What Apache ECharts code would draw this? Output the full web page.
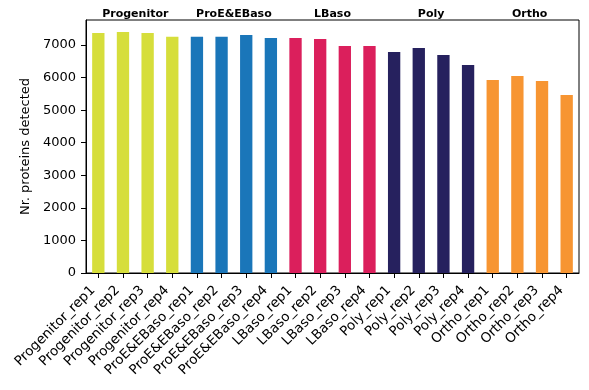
<!DOCTYPE html>
<html><head><meta charset="utf-8">
<script src="https://cdn.jsdelivr.net/npm/echarts@6/dist/echarts.min.js"></script>
<style>html,body{margin:0;padding:0;background:#fff}#c{width:589px;height:390px}</style>
</head><body><div id="c"></div>
<script>
const categories = ["Progenitor_rep1","Progenitor_rep2","Progenitor_rep3","Progenitor_rep4",
"ProE&EBaso_rep1","ProE&EBaso_rep2","ProE&EBaso_rep3","ProE&EBaso_rep4",
"LBaso_rep1","LBaso_rep2","LBaso_rep3","LBaso_rep4",
"Poly_rep1","Poly_rep2","Poly_rep3","Poly_rep4",
"Ortho_rep1","Ortho_rep2","Ortho_rep3","Ortho_rep4"];
const values = [7370,7400,7370,7250, 7250,7250,7310,7215, 7215,7185,6970,6970, 6785,6910,6695,6390, 5925,6050,5895,5465];
const groups = ["Progenitor","ProE&EBaso","LBaso","Poly","Ortho"];
const groupColors = ["#d6de3b","#1a76b9","#db1f5c","#26215e","#f79532"];
const yTicks = [0,1000,2000,3000,4000,5000,6000,7000];

const font = "DejaVu Sans";
const chart = echarts.init(document.getElementById('c'), null, {renderer:'canvas'});
chart.setOption({
  animation:false,
  grid:{left:86,right:10,top:20,bottom:117,show:true,borderColor:'#000',borderWidth:1,containLabel:false},
  xAxis:[{
    type:'category', data:categories, position:'bottom',
    axisLine:{show:true,lineStyle:{color:'#000',width:1}},
    axisTick:{show:true,alignWithLabel:true,length:5,lineStyle:{color:'#000'}},
    axisLabel:{rotate:45,interval:0,fontFamily:font,fontSize:13.5,color:'#000',margin:10,padding:[0,7.5,0,0]},
    splitLine:{show:false}
  },{
    type:'category', data:groups, position:'top',
    axisLine:{show:false}, axisTick:{show:false},
    axisLabel:{interval:0,fontFamily:font,fontSize:11,fontWeight:'bold',color:'#000',margin:0},
    splitLine:{show:false}
  }],
  yAxis:{
    type:'value', min:0, max:7768,
    name:'Nr. proteins detected', nameLocation:'middle', nameGap:53, nameRotate:90,
    nameTextStyle:{fontFamily:font,fontSize:13,color:'#000'},
    axisLine:{show:true,lineStyle:{color:'#000'}},
    axisTick:{show:true,length:5,lineStyle:{color:'#000'},customValues:yTicks},
    axisLabel:{fontFamily:font,fontSize:13,color:'#000',margin:10,customValues:yTicks,formatter:v=>String(v)},
    splitLine:{show:false}
  },
  series:[{
    type:'bar', xAxisIndex:0, barWidth:'50%',
    data:values.map((v,i)=>({value:v,itemStyle:{color:groupColors[Math.floor(i/4)]}}))
  }]
});
</script></body></html>
